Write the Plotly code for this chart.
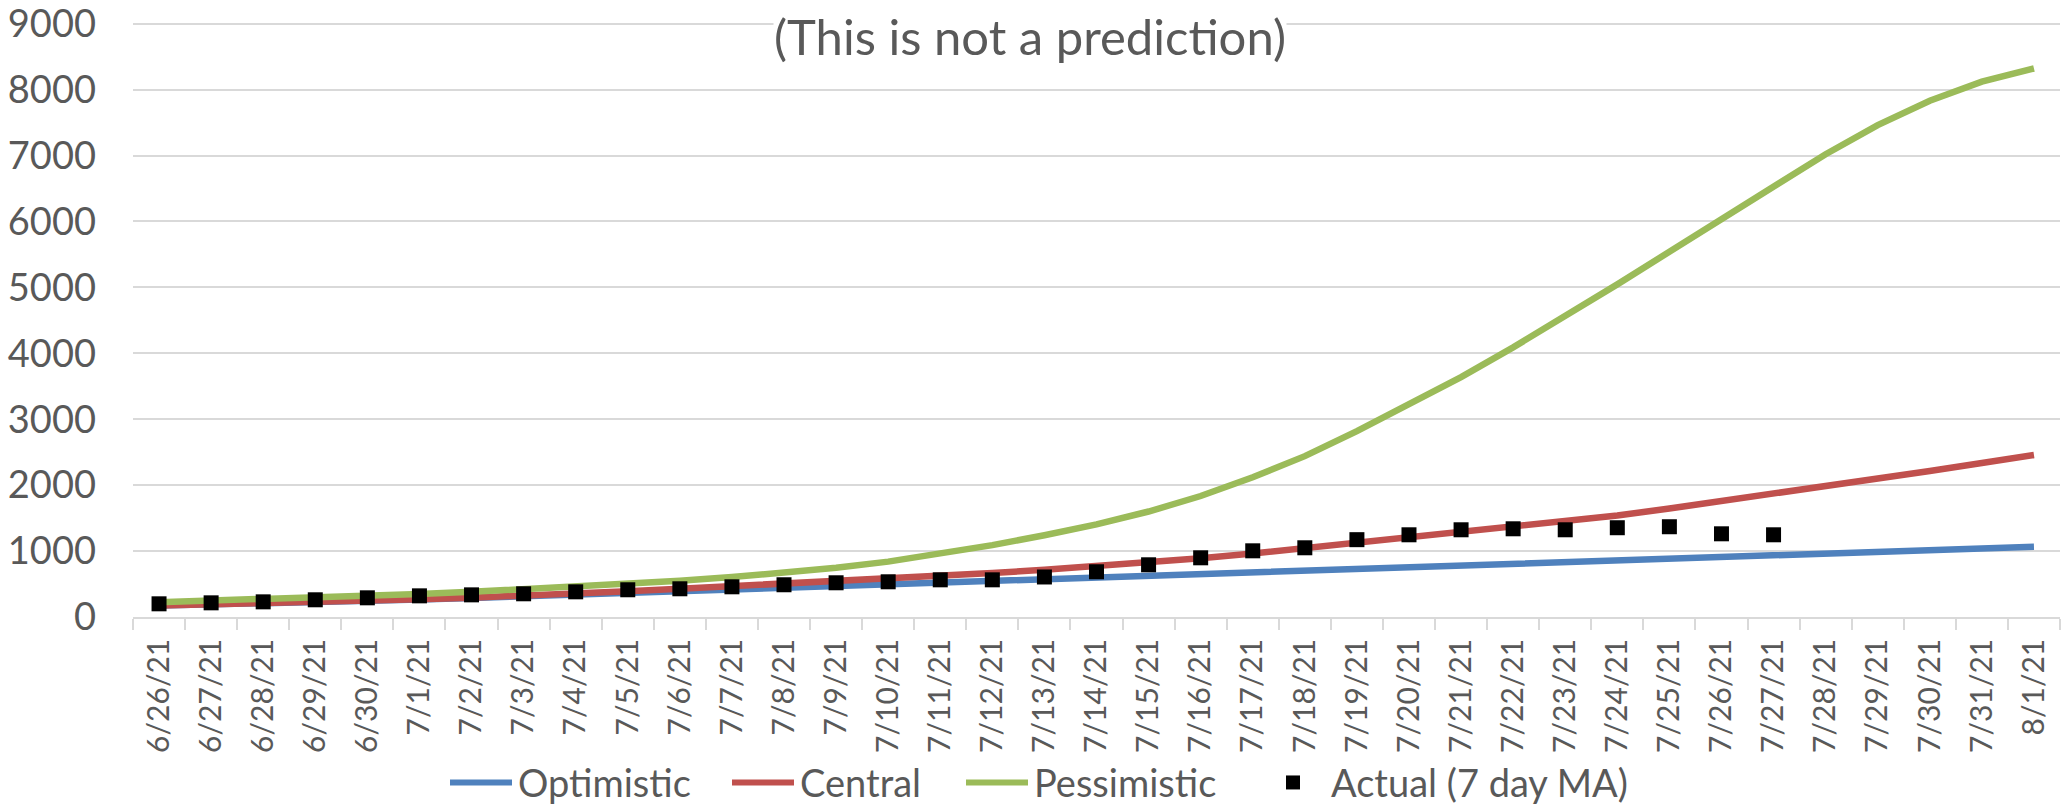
import plotly.graph_objects as go

dates = ["6/26/21", "6/27/21", "6/28/21", "6/29/21", "6/30/21",
         "7/1/21", "7/2/21", "7/3/21", "7/4/21", "7/5/21", "7/6/21", "7/7/21", "7/8/21",
         "7/9/21", "7/10/21", "7/11/21", "7/12/21", "7/13/21", "7/14/21", "7/15/21",
         "7/16/21", "7/17/21", "7/18/21", "7/19/21", "7/20/21", "7/21/21", "7/22/21",
         "7/23/21", "7/24/21", "7/25/21", "7/26/21", "7/27/21", "7/28/21", "7/29/21",
         "7/30/21", "7/31/21", "8/1/21"]

optimistic = [173, 188, 205, 223, 242, 264, 288, 314, 342, 374, 405, 432, 458, 483, 508,
              534, 560, 587, 612, 638, 663, 688, 712, 737, 762, 787, 812, 837, 862, 888,
              913, 938, 963, 989, 1014, 1040, 1065]

central = [175, 190, 207, 225, 245, 268, 293, 320, 352, 390, 428, 464, 500, 537, 575,
           620, 668, 716, 771, 822, 892, 963, 1044, 1126, 1201, 1275, 1355, 1440, 1540,
           1645, 1755, 1865, 1980, 2095, 2215, 2335, 2456]

pessimistic = [225, 246, 268, 293, 320, 350, 382, 418, 458, 500, 548, 605, 670, 748, 840,
               955, 1090, 1240, 1405, 1600, 1835, 2120, 2440, 2820, 3220, 3640, 4090,
               4560, 5045, 5540, 6040, 6540, 7020, 7460, 7830, 8120, 8320]

actual_dates = dates[:32]
actual = [200, 215, 230, 261, 291, 321, 336, 352, 382, 413, 428, 458, 489, 519, 534,
          564, 564, 607, 686, 792, 898, 1004, 1050, 1173, 1247, 1323, 1338, 1323, 1354,
          1369, 1262, 1247]

y_ticks = [0, 1000, 2000, 3000, 4000, 5000, 6000, 7000, 8000, 9000]
y_max = 9000
y_top = 9025  # slight headroom so the 9000 gridline is drawn

series_names = ["Optimistic", "Central", "Pessimistic", "Actual (7 day MA)"]
series_colors = ["#4F81BD", "#C0504D", "#9BBB59", "black"]

FONT = "Lato"
GREY = "#595959"
GRID = "#D9D9D9"

W, H = 2067, 805
zero_px, max_px = 617.5, 24.0
scale = (zero_px - max_px) / y_max
L, R, B = 133, 7, H - zero_px
T = max_px - (y_top - y_max) * scale
PW, PH = W - L - R, H - T - B


def px_x(px):
    return (px - L) / PW


def px_y(py):
    return (H - B - py) / PH


fig = go.Figure()
for name, vals, col in zip(series_names[:3], [optimistic, central, pessimistic], series_colors[:3]):
    fig.add_trace(go.Scatter(x=dates, y=vals, mode="lines", name=name,
                             line=dict(color=col, width=6.5), showlegend=False))
fig.add_trace(go.Scatter(x=actual_dates, y=actual, mode="markers", name=series_names[3],
                         marker=dict(symbol="square", size=15, color="black"),
                         showlegend=False))

# legend drawn manually (Excel-style spacing)
leg_y = 783
leg_items = [(450, 516), (732, 798), (966, 1032), (1293, 1329)]
shapes = []
annotations = []
for (sx, tx), name, col in zip(leg_items, series_names, series_colors):
    if name.startswith("Actual"):
        shapes.append(dict(type="rect", xref="paper", yref="paper",
                           x0=px_x(sx - 7), x1=px_x(sx + 7),
                           y0=px_y(leg_y + 7), y1=px_y(leg_y - 7),
                           fillcolor=col, line=dict(width=0)))
    else:
        shapes.append(dict(type="line", xref="paper", yref="paper",
                           x0=px_x(sx), x1=px_x(sx + 62), y0=px_y(leg_y), y1=px_y(leg_y),
                           line=dict(color=col, width=6)))
    annotations.append(dict(text=name, x=px_x(tx), xref="paper", y=px_y(leg_y), yref="paper",
                            xanchor="left", yanchor="middle", showarrow=False,
                            font=dict(family=FONT, size=38, color=GREY)))

annotations.append(dict(text="(This is not a prediction)", x=px_x(1030), xref="paper",
                        y=px_y(36), yref="paper", xanchor="center",
                        yanchor="middle", showarrow=False, bgcolor="white", borderpad=0,
                        font=dict(family=FONT, size=49, color=GREY)))

fig.update_layout(
    width=W, height=H,
    margin=dict(l=L, r=R, t=T, b=B, autoexpand=False),
    paper_bgcolor="white", plot_bgcolor="white",
    font=dict(family=FONT, color=GREY, size=36),
    showlegend=False,
    shapes=shapes,
    annotations=annotations,
)

fig.update_xaxes(type="category", categoryorder="array", categoryarray=dates,
                 range=[-0.5, len(dates) - 0.5],
                 tickangle=-90, tickson="boundaries", ticks="outside", ticklen=11,
                 tickwidth=1.5, tickcolor=GRID, showline=True, linecolor=GRID,
                 linewidth=1.5, showgrid=False, zeroline=False,
                 ticklabelstandoff=8,
                 tickfont=dict(family=FONT, size=30, color=GREY))
fig.update_yaxes(range=[0, y_top], tickvals=y_ticks, showgrid=True, gridcolor=GRID,
                 gridwidth=1.5, zeroline=False, showline=False, ticks="",
                 ticklabelstandoff=36, ticklabeloverflow="allow",
                 tickfont=dict(family=FONT, size=38, color=GREY))

fig.write_html("out.html", config={"displayModeBar": False},
               post_script="document.body.style.margin='0';")
